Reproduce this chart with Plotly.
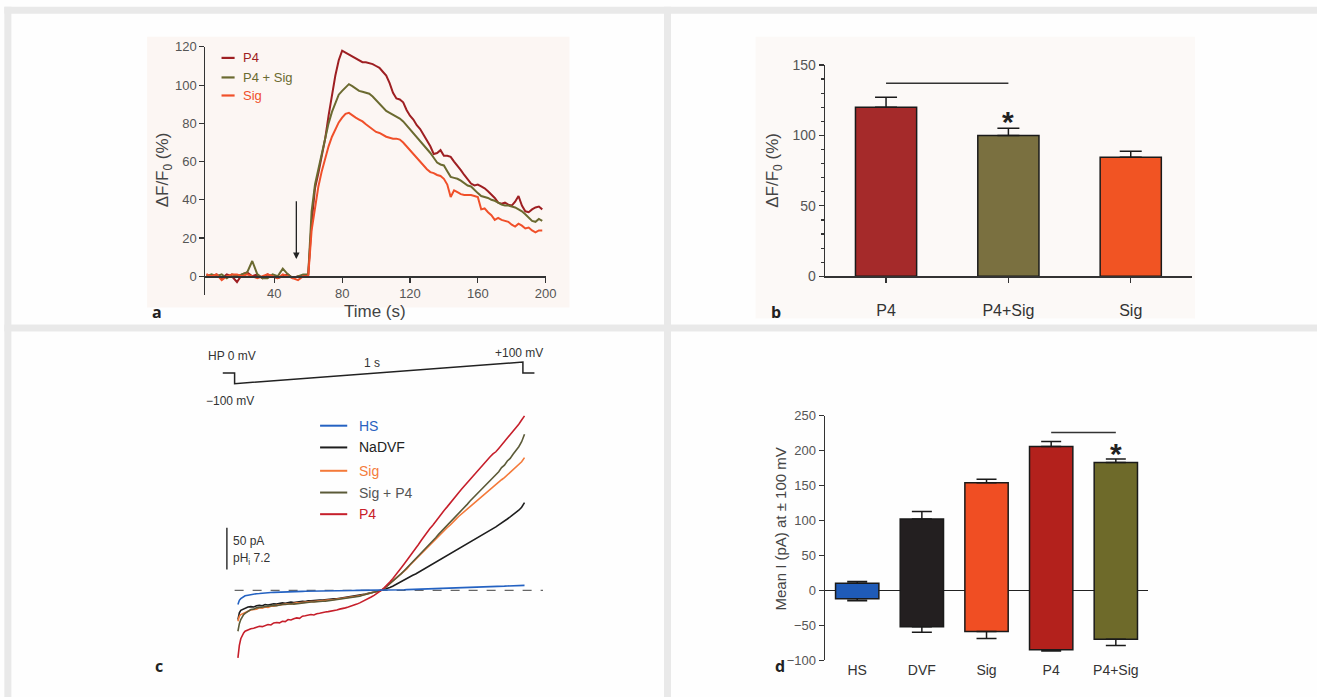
import plotly.graph_objects as go

# figure canvas (slightly larger than the window to cover the photographed area)
W, H = 1334, 714
# reference-pixel -> page-pixel compensation measured from earlier renders
AX, BX, AY, BY = 0.987, 1.7, 0.9755, 8.2
def X(px): return ((px - BX) / AX) / W
def Y(py): return 1 - ((py - BY) / AY) / H

# ---------------- Panel a data: time course ----------------
t_p4 = [0,3,6,9,12,15,18,21,24,27,30,33,36,39,42,45,48,51,54,57,60,
        62,64,66,68,70,72,74,76,78,80,82,84,86,88,90,92,94,96,98,100,102,104,106,108,110,
        112,114,116,118,120,122,124,126,128,130,132,134,136,138,140,142,144,146,148,150,
        152,154,156,158,160,162,164,166,168,170,172,174,176,178,180,182,184,186,188,190,
        192,194,196,198]
v_p4 = [1,0,1,-1,1,0,-3,1,2,0,1,-1,1,0,-1,0,1,-1,0,0,1,
        28,46,54,63,72,84,95,105,113,118,117,116,115,114,113,112,112,111.5,111,110,109,107,105,101,96,
        93,92.5,91,87,84,82,79,77,74,71,68,64,64.5,66,63,63,62.5,60,58,55.5,
        53,51,48.5,47.5,48,47,46,44.5,43,41,38.5,38,38.5,37.5,37,39,42,37,34,33.5,
        35,36,36.5,35]
v_p4sig = [0,1,0,1,-1,1,0,1,2,8,1,-1,-1,1,0,4,1,-1,0,1,1,
           34,48,56,64,72,80,86,91,95,97,99,100.5,99.5,98,97,96.5,96,95.5,94,92,90.5,88,86.5,85.5,84.5,
           83.5,82.5,81,79,76.5,74.5,73,71,68.5,66.5,64.5,62,59.5,58.5,58,55,52,51.5,51,50,
           48.5,47.5,47,45,43.5,42,41.5,41,40,39.5,38.5,37.5,37,37,36.5,36,35,34,32.5,31,
           29,28.5,30,29]
v_sig = [1,0,1,-2,0,1,1,0,1,0,-1,0,1,0,-1,1,0,-1,-2,0,0,
         24,35,47,55,62,68,73,77,80.5,83,85,85.5,84,83,82,81,79.5,78,76.5,75.5,75,74,73,72.5,72,
         72,71.5,70,68,66,63.5,61.5,60,58,56,54.5,54,53,52.5,51,48,41.5,45,44,43,
         42.5,42.5,42.5,42,41.5,35,35.5,33.5,32,29.5,30.5,29.5,29,28.5,27,26,27.5,26.5,25,25.5,
         24,23,24,24]
a_names = ["P4", "P4 + Sig", "Sig"]
a_colors = ["#9e1f22", "#6b6a30", "#f0502a"]
arrow_time = 53

# ---------------- Panel b data ----------------
b_cats = ["P4", "P4+Sig", "Sig"]
b_vals = [120, 100, 84.5]
b_err = [7, 5, 4.3]
b_colors = ["#a52a2a", "#7a7040", "#f15423"]

# ---------------- Panel c data: ramp protocol & I-V traces ----------------
prot_t = [-0.041, 0, 0, 1, 1, 1.04]
prot_v = [0, 0, -100, 100, 0, 0]
vm = [-100,-99.5,-99,-98,-97,-96,-95,-93,-91,-89,-87,-85,-83,-81,-79,-77,-75,-73,-71,-69,-67,-65,-63,-61,-59,-57,-55,
      -53,-51,-49,-47,-45,-43,-41,-39,-37,-35,-33,-31,-29,-27,-25,-23,-21,-19,-17,-15,-13,-11,-9,-7,-5,-3,-1,0,
      2,4,6,8,10,12,14,16,18,20,22,24,26,28,30,32,34,36,38,40,42,44,46,48,50,52,54,56,58,60,
      62,64,66,68,70,72,74,76,78,80,82,84,86,88,90,92,94,96,98,100]
i_hs = [-17,-14,-12,-10,-8.5,-7.5,-6.5,-5.8,-5,-4.6,-4,-3.8,-3.3,-3,-2.9,-2.6,-2.4,-2.2,-2.1,-1.9,-1.8,-1.7,-1.6,-1.5,-1.4,-1.3,-1.2,
        -1.1,-1.1,-1,-0.9,-0.9,-0.8,-0.8,-0.7,-0.6,-0.6,-0.5,-0.5,-0.4,-0.4,-0.3,-0.3,-0.2,-0.2,-0.1,-0.1,-0.1,0,0,0,0,0,0,0,
        0.1,0.2,0.3,0.4,0.5,0.6,0.7,0.7,0.9,1,1.1,1.2,1.3,1.4,1.5,1.6,1.7,1.8,1.9,2,2.1,2.2,2.3,2.4,2.5,2.6,2.7,2.8,2.9,3,
        3.2,3.4,3.5,3.7,3.8,4,4.1,4.3,4.4,4.5,4.7,4.9,5,5.2,5.3,5.4,5.6,5.7,5.9,6]
i_dvf = [-35,-30,-27,-24,-23,-22.5,-21,-20,-19.5,-20,-18.5,-18,-18.5,-17,-17.5,-16.5,-16,-16.5,-15.5,-15,-15.5,-14.5,-14,-14.5,-14,-13.5,-13,
         -13.5,-12.5,-12.5,-12,-12,-11.5,-11.5,-11,-11,-10.5,-10,-10,-9.5,-9,-8.5,-8,-7.5,-7,-6.5,-6,-5,-4.5,-3.5,-3,-2,-1.5,-0.5,0,
         1,2.5,3.5,5,7,8.5,10.5,12,14,16,18,19.5,21.5,23.5,26,27.5,30,31.5,33.5,36,37.5,39.5,41,43,45.5,47,49,51,53,55.5,
         57,59.5,61,63,65.5,67,70,71.5,74,76,78.5,80.5,83,85.5,88,90.5,93.5,96,99.5,105]
i_sig = [-37,-33,-31,-29,-28,-27.5,-26,-25,-23.5,-23,-22.5,-21,-21.5,-20,-20.5,-19,-19,-18,-17.5,-17,-17,-16,-16.5,-15.5,-15,-15,-14.5,
         -14.5,-14,-13.5,-13.5,-13,-12.5,-12.5,-12,-11.5,-11.5,-11,-11,-10.5,-10,-9.5,-9,-8.5,-8,-7,-6.5,-5.5,-5,-4,-3,-2.5,-1.5,-0.5,0,
         2,5,7.5,10.5,13,16.5,19.5,23,26,30,33.5,37,41,44,48,51,55,58,61.5,65,68,71.5,75,78,82,85,88.5,91.5,94,97,
         100,103.5,106,109,112,115,117.5,120.5,123.5,127,129.5,132.5,135,138,141.5,144,147,151,154,159]
i_sigp4 = [-49,-43,-40,-35,-31,-29,-27.5,-25,-23,-22.5,-21,-20.5,-20,-19.5,-19.5,-18.5,-18,-18.5,-17.5,-17,-17,-16.5,-16,-16.5,-16,-15.5,-15,
           -15,-14.5,-14,-14,-13.5,-13.5,-13,-13,-12.5,-12,-12,-11.5,-11,-10.5,-10,-9.5,-9,-8.5,-7.5,-7,-6,-5,-4.5,-3.5,-2.5,-1.5,-0.5,0,
           2,5,7.5,10.5,13,16.5,20,23.5,27,31,34.5,38,41.5,45,49,52.5,56,59.5,63,67,70.5,74,78,81,85,89,92.5,96,99.5,103,
           107,110.5,114,118,121,125,128,132,135.5,139,142,147,150,155,158,163,167,172,178,187]
i_p4 = [-81,-72,-66,-58,-54,-51,-49,-47,-46,-45.5,-44,-43,-43.5,-42,-41,-41.5,-39,-38.5,-39,-37,-37.5,-35,-35.5,-34,-33,-33.5,-31,
        -30.5,-30,-29,-29.5,-28,-27.5,-26.5,-26,-25.5,-25,-24,-23.5,-22.5,-22,-21,-20,-19,-18,-16.5,-15,-13.5,-12,-10,-8,-6,-4,-1.5,0,
        3,6,10,14,18,22.5,27,31.5,36,41,46,50.5,55,60,65,69.5,74,78,82.5,88,92,96,100,104.5,109,113,117,121,125,129,
        133,137,141,144.5,148,152,156,160,163.5,166,170,174,178,182,186,190.5,195,199,204,209]
c_names = ["HS", "NaDVF", "Sig", "Sig + P4", "P4"]
c_series = [i_hs, i_dvf, i_sig, i_sigp4, i_p4]
c_colors = ["#2462c2", "#1e1e1e", "#f47a3a", "#5b5a38", "#c61f2b"]
c_textcolors = ["#2a62c0", "#222222", "#f47c3c", "#555555", "#c8202a"]
draw_order = [1, 2, 3, 4, 0]

# ---------------- Panel d data ----------------
d_cats = ["HS", "DVF", "Sig", "P4", "P4+Sig"]
d_top = [10, 102, 154, 206, 183]
d_bottom = [-12, -52, -59, -85, -70]
d_err_up = [2.5, 11, 5, 7, 5]
d_err_down = [3, 8, 10, 2, 9]
d_colors = ["#1f5bb8", "#231f20", "#f04e23", "#b3211c", "#6e6a2a"]

fig = go.Figure()

for name, vals, col in zip(a_names, [v_p4, v_p4sig, v_sig], a_colors):
    fig.add_trace(go.Scatter(x=t_p4, y=vals, mode="lines", name=name,
                             line=dict(color=col, width=2), xaxis="x", yaxis="y",
                             showlegend=False))

fig.add_trace(go.Bar(x=list(range(3)), y=b_vals, marker=dict(color=b_colors, line=dict(color="#1a1a1a", width=1.5)),
                     width=0.5, xaxis="x2", yaxis="y2", showlegend=False,
                     error_y=dict(type="data", array=b_err, arrayminus=[0]*3, symmetric=False,
                                  color="#1a1a1a", thickness=1.5, width=11)))

fig.add_trace(go.Scatter(x=prot_t, y=prot_v, mode="lines", line=dict(color="#222", width=1.5),
                         xaxis="x4", yaxis="y4", showlegend=False))
for k in draw_order:
    fig.add_trace(go.Scatter(x=vm, y=c_series[k], mode="lines", name=c_names[k],
                             line=dict(color=c_colors[k], width=1.6), xaxis="x3", yaxis="y3",
                             showlegend=False))

fig.add_trace(go.Bar(x=list(range(5)), y=[t - b for t, b in zip(d_top, d_bottom)], base=d_bottom,
                     marker=dict(color=d_colors, line=dict(color="#1a1a1a", width=1.5)),
                     width=0.67, xaxis="x5", yaxis="y5", showlegend=False))
fig.add_trace(go.Scatter(x=list(range(5)), y=d_top, mode="markers", marker=dict(opacity=0),
                         xaxis="x5", yaxis="y5", showlegend=False,
                         error_y=dict(type="data", array=d_err_up, arrayminus=[0]*5, symmetric=False,
                                      color="#1a1a1a", thickness=1.5, width=10)))
fig.add_trace(go.Scatter(x=list(range(5)), y=d_bottom, mode="markers", marker=dict(opacity=0),
                         xaxis="x5", yaxis="y5", showlegend=False,
                         error_y=dict(type="data", array=[0]*5, arrayminus=d_err_down, symmetric=False,
                                      color="#1a1a1a", thickness=1.5, width=10)))

tickfont = dict(family="Liberation Sans, Arial", size=13, color="#555555")
axline = dict(showline=True, linecolor="#333333", linewidth=1.2, ticks="outside",
              tickcolor="#333333", ticklen=5, tickwidth=1.2, showgrid=False, zeroline=False,
              tickfont=tickfont)
hidden = dict(visible=False, showgrid=False, zeroline=False)

layout = dict(
    width=W, height=H, margin=dict(l=0, r=0, t=0, b=0), autosize=False,
    paper_bgcolor="#fefefe", plot_bgcolor="rgba(0,0,0,0)", showlegend=False,
    xaxis=dict(domain=[X(206), X(545)], range=[-0.6, 200.4], tickvals=[40, 80, 120, 160, 200],
               anchor="free", position=Y(276), **axline),
    yaxis=dict(domain=[Y(295), Y(47)], range=[-10, 120], tickvals=[0, 20, 40, 60, 80, 100, 120],
               anchor="x", **axline),
    xaxis2=dict(domain=[X(822), X(1187)], range=[-0.5, 2.5], tickvals=[0, 1, 2], ticktext=b_cats,
                anchor="y2", ticklabelstandoff=14,
                **{**axline, "tickfont": dict(family="Liberation Sans, Arial", size=16, color="#333")}),
    yaxis2=dict(domain=[Y(276), Y(65)], range=[0, 150], tickvals=[0, 50, 100, 150], anchor="x2",
                minor=dict(dtick=10, ticklen=3, tickcolor="#333", ticks="outside"),
                **{**axline, "tickfont": dict(family="Liberation Sans, Arial", size=14, color="#555")}),
    xaxis3=dict(domain=[X(200), X(560)], range=[-126.88, 125.75], anchor="y3", **hidden),
    yaxis3=dict(domain=[Y(670), Y(340)], range=[-96.9, 299.3], anchor="x3", **hidden),
    xaxis4=dict(domain=[X(220), X(540)], range=[-0.0523, 1.0638], anchor="y4", **hidden),
    yaxis4=dict(domain=[Y(390), Y(355)], range=[-163.9, 160.2], anchor="x4", **hidden),
    xaxis5=dict(domain=[X(822), X(1143.5)], range=[-0.5, 4.5], tickvals=list(range(5)), ticktext=d_cats,
                anchor="y5", showline=False, ticks="", showgrid=False, zeroline=False,
                ticklabelstandoff=0,
                tickfont=dict(family="Liberation Sans, Arial", size=14, color="#333")),
    yaxis5=dict(domain=[Y(659), Y(415)], range=[-100, 250], tickvals=[-100, -50, 0, 50, 100, 150, 200, 250],
                anchor="x5", **{**axline, "zeroline": True, "zerolinecolor": "#222", "zerolinewidth": 1.5}),
)
fig.update_layout(**layout)

shapes = []
def prect(x0, y0, x1, y1, col):
    shapes.append(dict(type="rect", xref="paper", yref="paper", x0=X(x0), x1=X(x1), y0=Y(y1), y1=Y(y0),
                       fillcolor=col, line=dict(width=0), layer="below"))
prect(148, 37, 568, 307, "#fcf6f3")
prect(753, 37, 1190, 318, "#fcf9f7")
prect(6, 7, 1320, 14, "#e9e9e9")
prect(6, 7, 13, 700, "#e9e9e9")
prect(662, 7, 669, 700, "#e9e9e9")
prect(6, 324, 1320, 331, "#e9e9e9")

shapes.append(dict(type="line", xref="x2", yref="y2", x0=0, x1=1, y0=137, y1=137,
                   line=dict(color="#333", width=1.5)))
shapes.append(dict(type="line", xref="x5", yref="y5", x0=3, x1=4, y0=226, y1=226,
                   line=dict(color="#333", width=1.5)))
shapes.append(dict(type="line", xref="x3", yref="y3", x0=-102.3, x1=112.9, y0=0, y1=0,
                   line=dict(color="#666", width=1.3, dash="dash"), layer="below"))
shapes.append(dict(type="line", xref="x3", yref="y3", x0=-107.7, x1=-107.7, y0=25, y1=75,
                   line=dict(color="#333", width=1.5)))
a_leg_y = [58, 77.5, 95.5]
for yy, col in zip(a_leg_y, a_colors):
    shapes.append(dict(type="line", xref="paper", yref="paper", x0=X(222), x1=X(235), y0=Y(yy), y1=Y(yy),
                       line=dict(color=col, width=2.2)))
c_leg_y = [425, 446.7, 470, 491.7, 513.3]
for yy, col in zip(c_leg_y, c_colors):
    shapes.append(dict(type="line", xref="paper", yref="paper", x0=X(320), x1=X(347), y0=Y(yy), y1=Y(yy),
                       line=dict(color=col, width=2)))
fig.update_layout(shapes=shapes)

ann = []
def ptext(x, y, text, size=13, color="#333", xanchor="center", bold=False, family="Liberation Sans, Arial", angle=0):
    ann.append(dict(xref="paper", yref="paper", x=X(x), y=Y(y), text=("<b>%s</b>" % text) if bold else text,
                    showarrow=False, xanchor=xanchor, yanchor="middle", textangle=angle,
                    font=dict(size=size, color=color, family=family)))

for yy, nm, col in zip(a_leg_y, a_names, a_colors):
    ptext(241, yy, nm, size=13, color=col, xanchor="left")
ptext(165, 170, "ΔF/F<sub>0</sub> (%)", size=17, color="#444", angle=-90)
ptext(375, 311, "Time (s)", size=17, color="#444")
ptext(158, 312, "a", size=16, color="#222", bold=True, family="Open Sans")
ann.append(dict(xref="x", yref="y", x=arrow_time, y=9, ax=arrow_time, ay=40, axref="x", ayref="y",
                text="", showarrow=True, arrowhead=2, arrowsize=1, arrowwidth=1.3, arrowcolor="#222"))
ptext(772, 170, "ΔF/F<sub>0</sub> (%)", size=17, color="#444", angle=-90)
ptext(773, 312, "b", size=16, color="#222", bold=True, family="Open Sans")
ann.append(dict(xref="x2", yref="y2", x=1, y=110, text="<b>*</b>", showarrow=False, yanchor="middle",
                font=dict(size=30, color="#222", family="Liberation Sans, Arial")))
ptext(232.5, 355, "HP 0 mV", size=12)
ptext(371.7, 362.5, "1 s", size=12)
ptext(518, 352.7, "+100 mV", size=12)
ptext(230, 400, "−100 mV", size=12)
ptext(231.5, 540, "50 pA", size=12, xanchor="left")
ptext(231.5, 558.5, "pH<sub>i</sub> 7.2", size=12, xanchor="left")
for yy, nm, col in zip(c_leg_y, c_names, c_textcolors):
    ptext(356.7, yy, nm, size=14, color=col, xanchor="left")
ptext(160, 665, "c", size=16, color="#222", bold=True, family="Open Sans")
ptext(778, 528, "Mean I (pA) at ± 100 mV", size=15, color="#444", angle=-90)
ptext(777, 665, "d", size=16, color="#222", bold=True, family="Open Sans")
ann.append(dict(xref="x5", yref="y5", x=4, y=196, text="<b>*</b>", showarrow=False, yanchor="middle",
                font=dict(size=30, color="#222", family="Liberation Sans, Arial")))
fig.update_layout(annotations=ann)

post = ("var d=document.getElementById('{plot_id}');"
        "document.documentElement.style.margin='0';document.documentElement.style.padding='0';"
        "document.documentElement.style.overflow='hidden';"
        "document.body.style.margin='0';document.body.style.padding='0';document.body.style.overflow='hidden';"
        "d.style.position='fixed';d.style.left='0px';d.style.top='0px';")
fig.write_html("out.html", config={"displayModeBar": False, "staticPlot": True}, post_script=post)
